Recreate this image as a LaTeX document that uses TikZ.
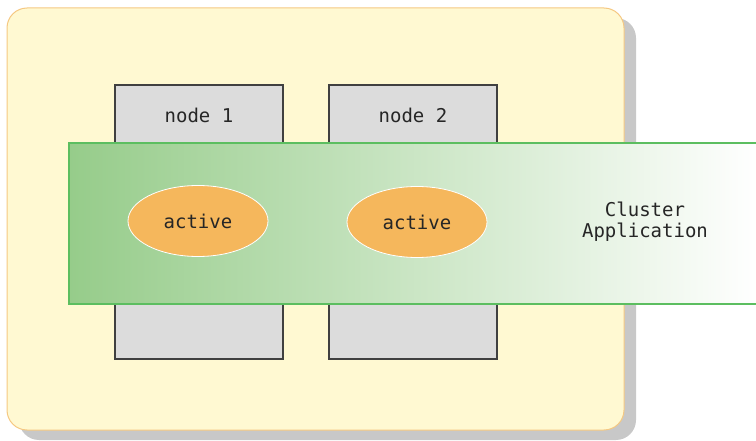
\documentclass[tikz,border=0pt]{standalone}
\usepackage{fontspec}
\setmonofont{DejaVu Sans Mono}
\usetikzlibrary{shapes.geometric}

\definecolor{frameyellow}{RGB}{255,249,210}
\definecolor{frameorange}{RGB}{245,200,130}
\definecolor{shadowgray}{RGB}{200,200,200}
\definecolor{boxgray}{RGB}{220,220,220}
\definecolor{bandgreen}{RGB}{150,204,138}
\definecolor{bandmid}{RGB}{186,222,174}
\definecolor{bandline}{RGB}{92,190,96}
\definecolor{activeorange}{RGB}{245,183,92}

\tikzset{
  txt/.style={font=\ttfamily\fontsize{19}{21}\selectfont, text=black!85, align=center},
  nodebox/.style={draw=black!75, line width=1.2pt, fill=boxgray, minimum width=168, minimum height=274, inner sep=0},
  band/.style={draw=bandline, line width=1.2pt, shading=axis, shading angle=90,
    left color=bandgreen, middle color=bandmid, right color=white, minimum width=689, minimum height=161, inner sep=0},
  activestate/.style={ellipse, draw=white, line width=0.8pt, fill=activeorange, minimum width=140, minimum height=71, inner sep=0}
}

\begin{document}
\begin{tikzpicture}[x=1pt,y=-1pt]
\useasboundingbox (0,0) rectangle (756,441);

% cluster frame with shadow
\fill[shadowgray, rounded corners=20] (19,18) rectangle (636,440);
\draw[frameorange, fill=frameyellow, line width=1pt, rounded corners=20] (7,8) rectangle (624,430);

% nodes
\node[nodebox] (node1) at (199,222) {};
\node[nodebox] (node2) at (413,222) {};
\node[txt] (node1label) at (199,115) {node 1};
\node[txt] (node2label) at (413,115) {node 2};

% cluster application
\node[band] (app) at (413.5,223.5) {};
\node[activestate, txt] (active1) at (198,221) {active};
\node[activestate, txt] (active2) at (417,222) {active};
\node[txt] (applabel) at (645,222) {Cluster\\Application};
\end{tikzpicture}
\end{document}
